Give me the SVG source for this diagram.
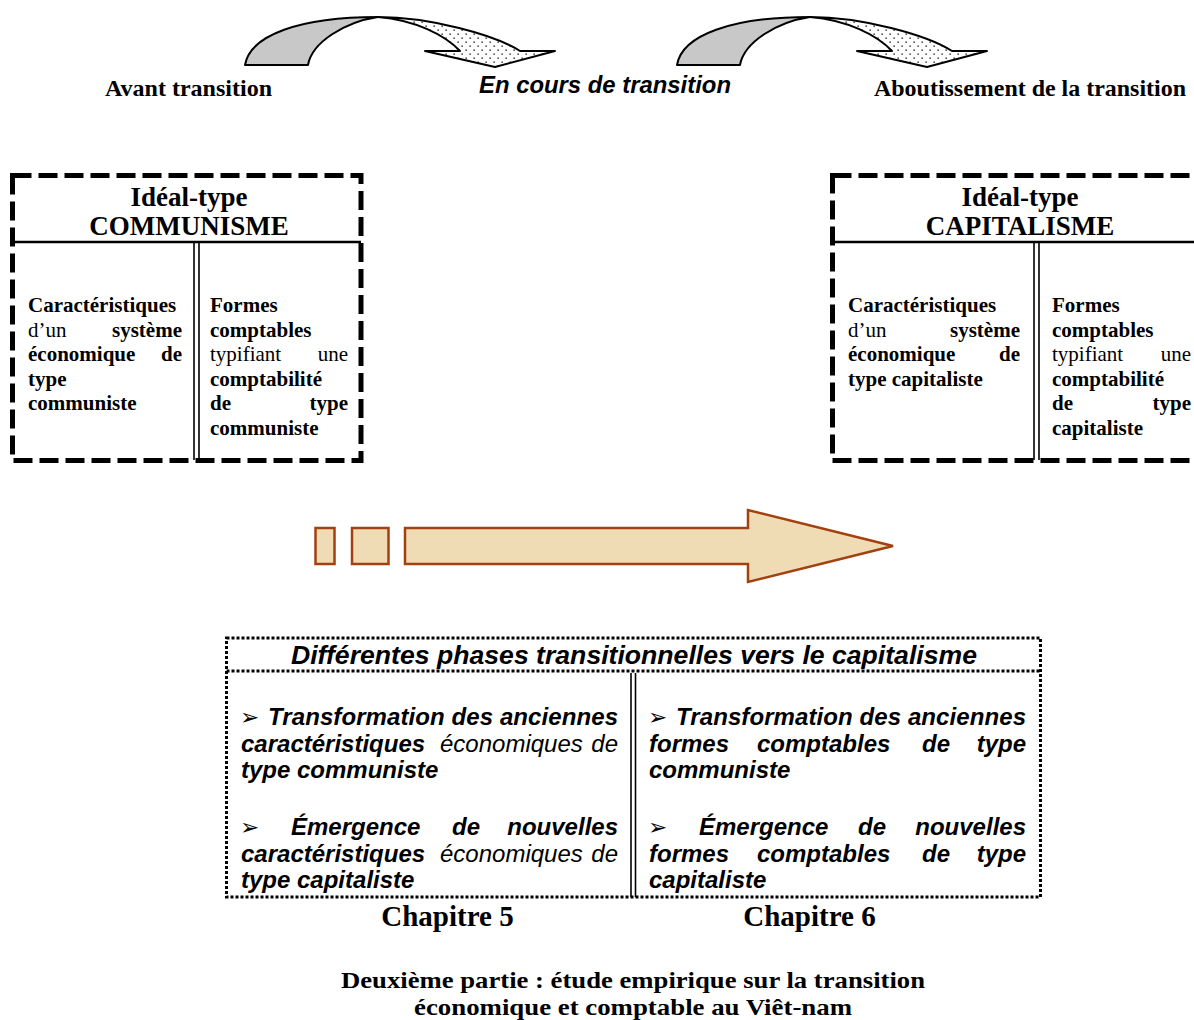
<svg xmlns="http://www.w3.org/2000/svg" width="1194" height="1020" viewBox="0 0 1194 1020">
<defs>
<pattern id="dots" width="8" height="8" patternUnits="userSpaceOnUse">
<rect width="8" height="8" fill="#ffffff"/>
<rect x="1.5" y="1.5" width="1.3" height="1.3" fill="#000"/>
<rect x="5.5" y="5.5" width="1.3" height="1.3" fill="#000"/>
</pattern>
<style>
.serif{font-family:"Liberation Serif","Times New Roman",serif;fill:#000}
.sans{font-family:"Liberation Sans",Arial,sans-serif;fill:#000}
.b{font-weight:bold}
.i{font-style:italic}
.hdr{font-size:24px}
.ttl{font-size:27px;font-weight:bold}
.body{font-size:21px}
.bb{font-size:24px;font-weight:bold;font-style:italic}
.bi{font-size:24px;font-style:italic}
.bul{font-family:"DejaVu Sans",sans-serif;font-size:23px;fill:#000}
.dash{fill:none;stroke:#000;stroke-width:5;stroke-dasharray:19 7}
.dot{fill:none;stroke:#000;stroke-width:3;stroke-dasharray:3 2}
.rule{stroke:#000;stroke-width:2.5;fill:none}
.thin{stroke:#000;stroke-width:1.6;fill:none}
.gray{fill:#c8c8c8;stroke:#000;stroke-width:2;stroke-linejoin:round}
.dotted{fill:url(#dots);stroke:#000;stroke-width:2;stroke-linejoin:round}
.big{fill:#f0dcb4;stroke:#a3400f;stroke-width:2.5}
</style>
</defs>
<rect width="1194" height="1020" fill="#ffffff"/>

<g id="connectors">
<g id="curve1">
<path class="dotted" d="M378,17 C430,17 495,35 520,51 L555,51 L495,67 L425,51 L460,51 C445,35 415,20 378,17 Z"/>
<path class="gray" d="M245,65 C250,35 300,17 378,17 C345,22 312,42 308,65 Z"/>
</g>
<g id="curve2" transform="translate(432,0)">
<path class="dotted" d="M378,17 C430,17 495,35 520,51 L555,51 L495,67 L425,51 L460,51 C445,35 415,20 378,17 Z"/>
<path class="gray" d="M245,65 C250,35 300,17 378,17 C345,22 312,42 308,65 Z"/>
</g>
<g id="big-arrow">
<rect class="big" x="315.5" y="528" width="19" height="36"/>
<rect class="big" x="352" y="528" width="36.5" height="36"/>
<path class="big" d="M405,528 L748,528 L748,510 L893,546 L748,582 L748,564 L405,564 Z"/>
</g>
</g>

<g id="labels-top">
<text class="serif b hdr" x="105" y="96" textLength="167" lengthAdjust="spacingAndGlyphs">Avant transition</text>
<text class="sans b i" style="font-size:23.5px" x="479" y="93" textLength="252" lengthAdjust="spacingAndGlyphs">En cours de transition</text>
<text class="serif b hdr" x="874" y="96" textLength="312" lengthAdjust="spacingAndGlyphs">Aboutissement de la transition</text>
</g>

<g id="node-communisme">
<rect class="dash" x="12.5" y="175.5" width="348.5" height="285"/>
<line class="rule" x1="12.5" y1="242" x2="361" y2="242"/>
<line class="thin" x1="194" y1="242" x2="194" y2="460"/>
<line class="thin" x1="199" y1="242" x2="199" y2="460"/>
<text class="serif ttl" x="189" y="206" text-anchor="middle">Idéal-type</text>
<text class="serif ttl" x="189" y="235" text-anchor="middle">COMMUNISME</text>
<g class="serif body">
<text class="b" x="28" y="312">Caractéristiques</text>
<text x="28" y="337">d’un</text><text class="b" x="182" y="337" text-anchor="end">système</text>
<text class="b" x="28" y="361">économique</text><text class="b" x="182" y="361" text-anchor="end">de</text>
<text class="b" x="28" y="386">type</text>
<text class="b" x="28" y="410">communiste</text>
<text class="b" x="210" y="312">Formes</text>
<text class="b" x="210" y="337">comptables</text>
<text x="210" y="361">typifiant</text><text x="348" y="361" text-anchor="end">une</text>
<text class="b" x="210" y="386">comptabilité</text>
<text class="b" x="210" y="410">de</text><text class="b" x="348" y="410" text-anchor="end">type</text>
<text class="b" x="210" y="435">communiste</text>
</g>
</g>

<g id="node-capitalisme">
<rect class="dash" x="832.5" y="175.5" width="400" height="285"/>
<line class="rule" x1="832.5" y1="242" x2="1194" y2="242"/>
<line class="thin" x1="1034" y1="242" x2="1034" y2="460"/>
<line class="thin" x1="1039" y1="242" x2="1039" y2="460"/>
<text class="serif ttl" x="1020" y="206" text-anchor="middle">Idéal-type</text>
<text class="serif ttl" x="1020" y="235" text-anchor="middle">CAPITALISME</text>
<g class="serif body">
<text class="b" x="848" y="312">Caractéristiques</text>
<text x="848" y="337">d’un</text><text class="b" x="1020" y="337" text-anchor="end">système</text>
<text class="b" x="848" y="361">économique</text><text class="b" x="1020" y="361" text-anchor="end">de</text>
<text class="b" x="848" y="386">type capitaliste</text>
<text class="b" x="1052" y="312">Formes</text>
<text class="b" x="1052" y="337">comptables</text>
<text x="1052" y="361">typifiant</text><text x="1191" y="361" text-anchor="end">une</text>
<text class="b" x="1052" y="386">comptabilité</text>
<text class="b" x="1052" y="410">de</text><text class="b" x="1191" y="410" text-anchor="end">type</text>
<text class="b" x="1052" y="435">capitaliste</text>
</g>
</g>

<g id="node-phases">
<rect class="dot" x="226.5" y="638" width="814" height="259"/>
<line class="dot" x1="226.5" y1="671" x2="1040.5" y2="671"/>
<line class="thin" x1="631" y1="673" x2="631" y2="897"/>
<line class="thin" x1="635.5" y1="673" x2="635.5" y2="897"/>
<text class="sans b i" style="font-size:26px" x="291" y="664" textLength="686" lengthAdjust="spacingAndGlyphs">Différentes phases transitionnelles vers le capitalisme</text>
<g class="sans">
<text class="bul" x="240" y="725">➢</text>
<text class="bb" x="268" y="725" textLength="350" lengthAdjust="spacing">Transformation des anciennes</text>
<text class="bb" x="241" y="752">caractéristiques</text><text class="bi" x="440" y="752">économiques</text><text class="bi" x="618" y="752" text-anchor="end">de</text>
<text class="bb" x="241" y="778">type communiste</text>
<text class="bul" x="240" y="835">➢</text>
<text class="bb" x="291" y="835">Émergence</text><text class="bb" x="466" y="835" text-anchor="middle">de</text><text class="bb" x="618" y="835" text-anchor="end">nouvelles</text>
<text class="bb" x="241" y="862">caractéristiques</text><text class="bi" x="440" y="862">économiques</text><text class="bi" x="618" y="862" text-anchor="end">de</text>
<text class="bb" x="241" y="888">type capitaliste</text>
<text class="bul" x="648" y="725">➢</text>
<text class="bb" x="676" y="725" textLength="350" lengthAdjust="spacing">Transformation des anciennes</text>
<text class="bb" x="649" y="752">formes</text><text class="bb" x="757" y="752">comptables</text><text class="bb" x="936" y="752" text-anchor="middle">de</text><text class="bb" x="1026" y="752" text-anchor="end">type</text>
<text class="bb" x="649" y="778">communiste</text>
<text class="bul" x="648" y="835">➢</text>
<text class="bb" x="699" y="835">Émergence</text><text class="bb" x="872" y="835" text-anchor="middle">de</text><text class="bb" x="1026" y="835" text-anchor="end">nouvelles</text>
<text class="bb" x="649" y="862">formes</text><text class="bb" x="757" y="862">comptables</text><text class="bb" x="936" y="862" text-anchor="middle">de</text><text class="bb" x="1026" y="862" text-anchor="end">type</text>
<text class="bb" x="649" y="888">capitaliste</text>
</g>
</g>

<g id="chapters">
<text class="serif b" style="font-size:29px" x="447.5" y="926" text-anchor="middle">Chapitre 5</text>
<text class="serif b" style="font-size:29px" x="809.5" y="926" text-anchor="middle">Chapitre 6</text>
</g>

<g id="footer">
<text class="serif b" style="font-size:23px" x="633" y="988" text-anchor="middle" textLength="584" lengthAdjust="spacingAndGlyphs">Deuxième partie : étude empirique sur la transition</text>
<text class="serif b" style="font-size:23px" x="633" y="1015" text-anchor="middle" textLength="438" lengthAdjust="spacingAndGlyphs">économique et comptable au Viêt-nam</text>
</g>
</svg>
